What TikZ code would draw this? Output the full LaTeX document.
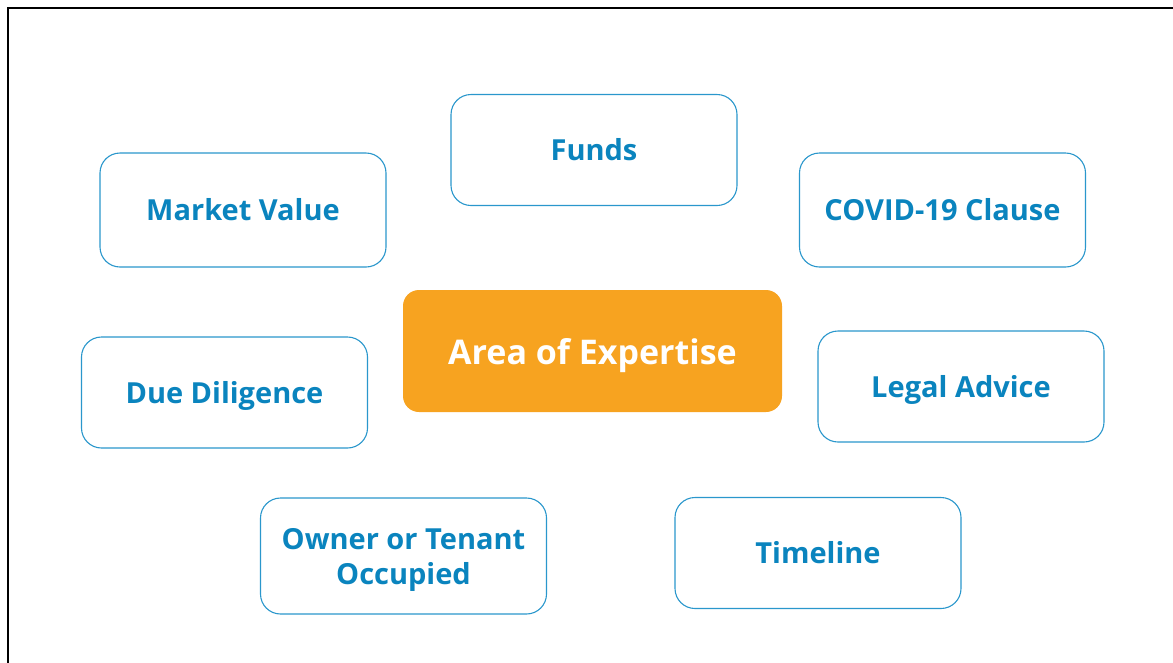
\documentclass[tikz,border=0pt]{standalone}
\usepackage{fontspec}
\setmainfont{Open Sans}
\definecolor{topicblue}{HTML}{0A84BE}
\definecolor{edgeblue}{HTML}{2A97CC}
\definecolor{huborange}{HTML}{F7A320}
\begin{document}
\begin{tikzpicture}[x=1pt,y=-1pt,
  topic/.style={draw=edgeblue, line width=1.1pt, rounded corners=20pt, fill=white,
    minimum width=286pt, minimum height=111pt, align=center,
    text height=23pt, text depth=2pt,
    text=topicblue, font=\fontsize{29}{35}\selectfont\bfseries},
  hub/.style={fill=huborange, rounded corners=16pt,
    minimum width=379pt, minimum height=122pt, align=center,
    text height=30pt, text depth=4pt,
    text=white, font=\fontsize{34}{40}\selectfont\bfseries}]
  \useasboundingbox (0,0) rectangle (1173,662);
  % frame along the top and left edges
  \draw[line width=2.6pt, line cap=rect] (8,664) -- (8,8) -- (1175,8);
  % central topic
  \node[hub] (area) at (592.5,351) {Area of Expertise};
  % surrounding topics
  \node[topic] (funds) at (594,150) {Funds};
  \node[topic, minimum height=114pt] (market) at (243,210) {Market Value};
  \node[topic, minimum height=114pt] (covid) at (942.5,210) {COVID-19 Clause};
  \node[topic] (due) at (224.5,392.5) {Due Diligence};
  \node[topic] (legal) at (961,386.5) {Legal Advice};
  \node[topic, minimum height=116pt, text height=, text depth=-2pt] (owner) at (403.5,556) {Owner or Tenant\\Occupied};
  \node[topic] (timeline) at (818,553) {Timeline};
\end{tikzpicture}
\end{document}
